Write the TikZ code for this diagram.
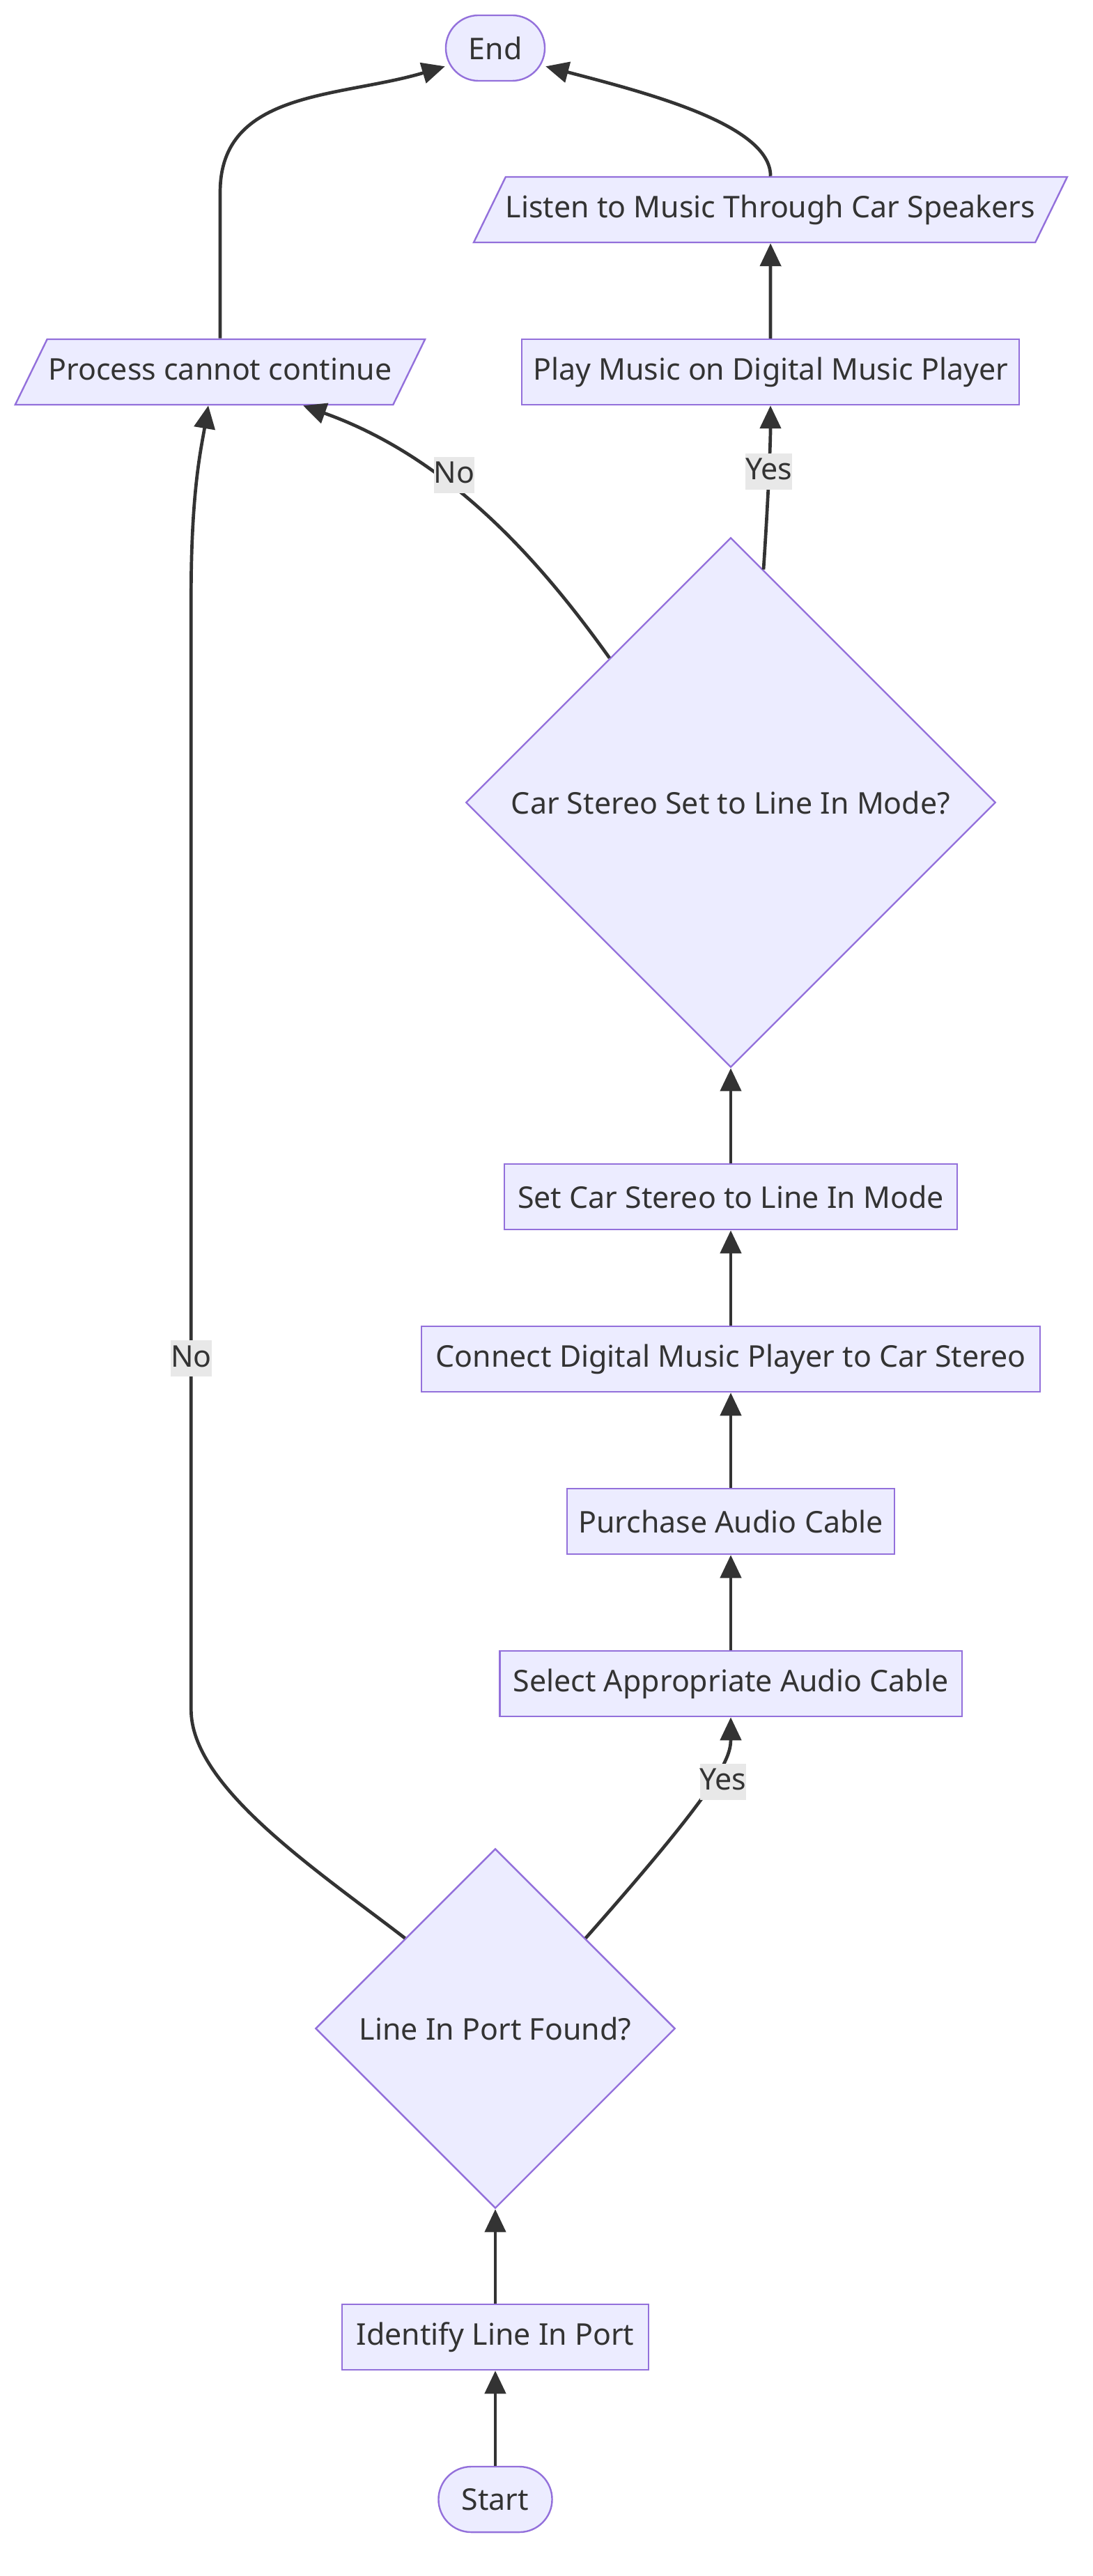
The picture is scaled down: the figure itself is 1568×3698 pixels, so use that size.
\documentclass[tikz,border=0pt]{standalone}
\usepackage{fontspec}
\setmainfont{Noto Sans}
\usetikzlibrary{arrows.meta,shapes.geometric}
\definecolor{boxfill}{HTML}{ECECFF}
\definecolor{boxline}{HTML}{9370DB}
\definecolor{ink}{HTML}{333333}
\definecolor{lblfill}{HTML}{E8E8E8}
\tikzstyle{every node}=[font=\fontsize{12.2}{14.6}\selectfont,text=ink]
\tikzstyle{box}=[draw=boxline,fill=boxfill,line width=0.024cm,minimum height=0.94cm,inner sep=0pt]
\tikzstyle{term}=[box,rounded corners=0.47cm]
\tikzstyle{io}=[box,trapezium,trapezium left angle=64,trapezium right angle=116,trapezium stretches body,
  text height=0.33cm,text depth=0.09cm,inner ysep=0.26cm,inner xsep=0pt]
\tikzstyle{decision}=[box,diamond,aspect=1]
\tikzstyle{flow}=[draw=ink,line width=0.047cm,-{Triangle[length=0.33cm,width=0.3cm]}]
\tikzstyle{lbl}=[fill=lblfill,inner xsep=0pt,inner ysep=0.05cm,text height=0.33cm,text depth=0.09cm]

\begin{document}
\begin{tikzpicture}[x=0.01cm,y=-0.01cm]
\useasboundingbox (0,0) rectangle (1568,3698);

% steps, from the bottom up
\node[term,minimum width=1.63cm] (start) at (711,3588) {Start};
\node[box,minimum width=4.40cm] (identify) at (711,3355) {Identify Line In Port};
\node[decision,minimum width=5.16cm,minimum height=5.16cm] (portFound) at (711,2912) {Line In Port Found?};
\node[box,minimum width=6.63cm] (select) at (1049,2417) {Select Appropriate Audio Cable};
\node[box,minimum width=4.70cm] (purchase) at (1049,2184) {Purchase Audio Cable};
\node[box,minimum width=8.88cm] (connect) at (1049,1951) {Connect Digital Music Player to Car Stereo};
\node[box,minimum width=6.50cm] (setMode) at (1049,1718) {Set Car Stereo to Line In Mode};
\node[decision,minimum width=7.60cm,minimum height=7.60cm] (modeSet) at (1049,1152) {Car Stereo Set to Line In Mode?};
\node[box,minimum width=7.14cm] (play) at (1106,534) {Play Music on Digital Music Player};
\node[io,minimum width=8.48cm] (listen) at (1106,301) {Listen to Music Through Car Speakers};
\node[io,minimum width=5.88cm] (noGo) at (316,534) {Process cannot continue};
\node[term,minimum width=1.42cm] (finish) at (711,69) {End};

% main line
\draw[flow] (start) -- (identify);
\draw[flow] (identify) -- (portFound);
\draw[flow] (portFound.north east) .. controls +(190,-215) and +(0,60) .. node[lbl,pos=0.53,xshift=0.17cm]{Yes} (select.south);
\draw[flow] (select) -- (purchase);
\draw[flow] (purchase) -- (connect);
\draw[flow] (connect) -- (setMode);
\draw[flow] (setMode) -- (modeSet);
\draw[flow] (modeSet.82) .. controls +(6,-90) and +(0,60) .. node[lbl,pos=0.55]{Yes} (play.south);
\draw[flow] (play) -- (listen);
\draw[flow] (listen.north) .. controls +(0,-74) and +(145,38) .. (finish.-20);

% the two ways out
\draw[flow] (modeSet.130) .. controls +(-100,-140) and +(210,75) .. node[lbl,pos=0.6,yshift=0.2cm]{No} ([xshift=1.19cm]noGo.south);
\draw[flow] (portFound.north west) .. controls +(-130,-100) and +(0,110) .. ++(-307,-328)
  -- node[lbl,pos=0.315]{No} ++(0,-1600) .. controls +(0,-150) and +(-10,60) .. ([xshift=-0.17cm]noGo.south);
\draw[flow] (noGo.north) -- ++(0,-210) .. controls +(0,-147) and +(-150,45) .. (finish.200);

\end{tikzpicture}
\end{document}
